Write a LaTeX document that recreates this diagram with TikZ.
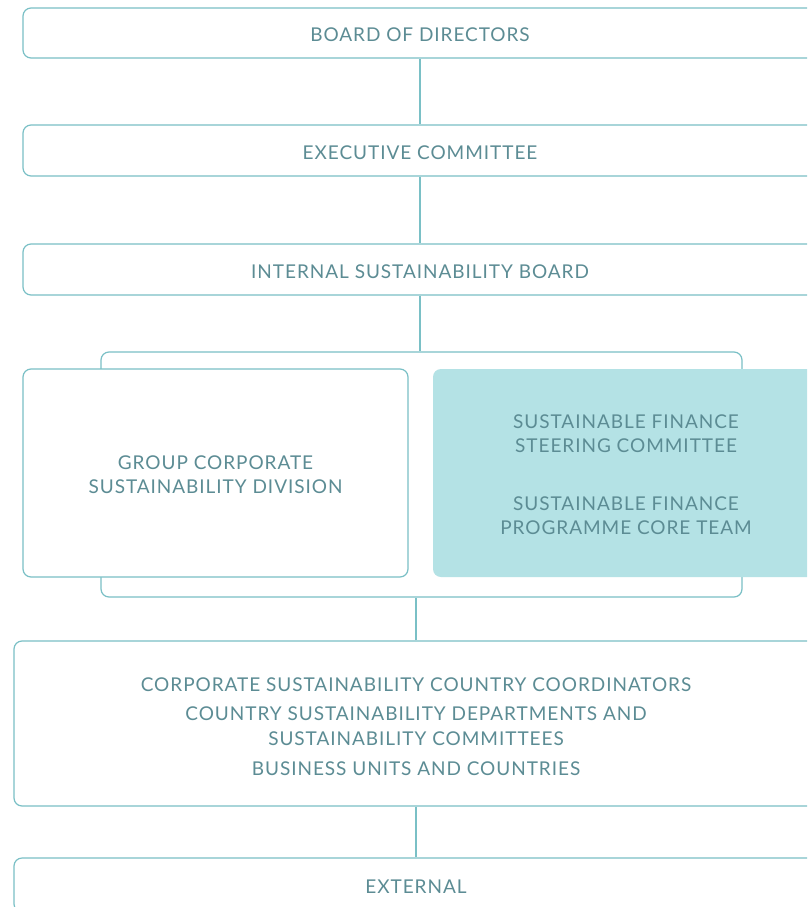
\documentclass[tikz,border=0pt]{standalone}
\usepackage{fontspec}
\setmainfont{Lato}[LetterSpace=5]
\definecolor{edge}{RGB}{122,192,198}
\definecolor{txt}{RGB}{92,140,148}
\definecolor{fillc}{RGB}{180,226,229}
\newcommand{\lowtext}[2]{\raisebox{-#1}[\height][\depth]{\begin{tabular}{@{}c@{}}#2\end{tabular}}}
\begin{document}
\begin{tikzpicture}[x=1pt,y=-1pt,
  box/.style={draw=edge,line width=1.2pt,rounded corners=8pt,fill=white,text=txt,align=center,inner sep=0pt,font=\fontsize{19}{24}\selectfont,execute at begin node={\rule{0pt}{17.8pt}}},
  link/.style={draw=edge,line width=1.2pt}]
\useasboundingbox (0,0) rectangle (807,907);
\clip (0,0) rectangle (807,907);
\fill[white] (0,0) rectangle (807,907);
\node[box,minimum width=794pt,minimum height=50pt] (board) at (420,33) {BOARD OF DIRECTORS};
\node[box,minimum width=794pt,minimum height=51pt] (exec) at (420,150.5) {EXECUTIVE COMMITTEE};
\node[box,minimum width=794pt,minimum height=51pt] (isb) at (420,269.5) {INTERNAL SUSTAINABILITY BOARD};
\node[box,minimum width=641pt,minimum height=245pt] (grp) at (421.5,474.5) {};
\node[box,minimum width=385pt,minimum height=208pt] (gcsd) at (215.5,473) {\lowtext{4pt}{GROUP CORPORATE\\SUSTAINABILITY DIVISION}};
\node[box,draw=none,fill=fillc,minimum width=386pt,minimum height=208pt] (sf) at (626,473) {\lowtext{4pt}{SUSTAINABLE FINANCE\\STEERING COMMITTEE\\[34pt]SUSTAINABLE FINANCE\\PROGRAMME CORE TEAM}};
\node[box,minimum width=804pt,minimum height=165pt] (units) at (416,723.5) {\lowtext{5pt}{CORPORATE SUSTAINABILITY COUNTRY COORDINATORS\\[5pt]COUNTRY SUSTAINABILITY DEPARTMENTS AND\\[1pt]SUSTAINABILITY COMMITTEES\\[6pt]BUSINESS UNITS AND COUNTRIES}};
\node[box,minimum width=804pt,minimum height=54pt] (ext) at (416,885) {EXTERNAL};
\draw[link] (board.south) -- (exec.north);
\draw[link] (exec.south) -- (isb.north);
\draw[link] (isb.south) -- (isb.south |- grp.north);
\draw[link] (units.north) -- (units.north |- grp.south);
\draw[link] (units.south) -- (ext.north);
\end{tikzpicture}
\end{document}
